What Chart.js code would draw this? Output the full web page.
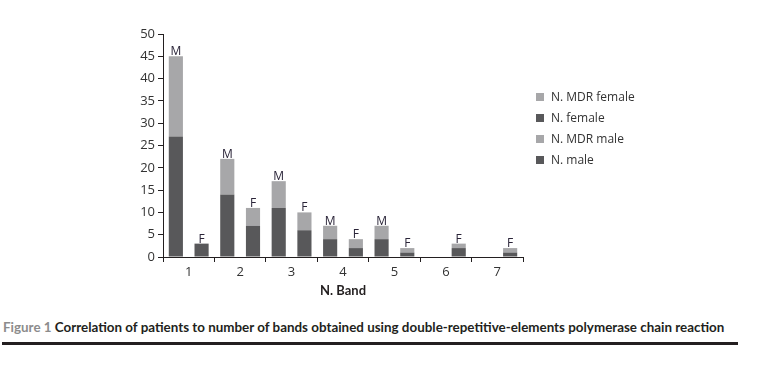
<!DOCTYPE html>
<html>
<head>
<meta charset="utf-8">
<script src="https://cdn.jsdelivr.net/npm/chart.js@4.4.1/dist/chart.umd.min.js"></script>
<style>
  body { margin: 0; background: #fff; }
  #wrap { position: absolute; left: 0; top: 0; width: 766px; height: 305px; }
  #legend { position: absolute; left: 536px; top: 89px; font: 12px "Open Sans", sans-serif; color: #333; }
  #legend div { height: 21px; line-height: 16px; white-space: nowrap; }
  #legend i { display: inline-block; width: 8px; height: 8px; margin-right: 7px; vertical-align: 0px; }
  .caption { position: absolute; left: 3px; top: 319px; font: bold 13.4px Lato, sans-serif; color: #231f20; white-space: nowrap; }
  .caption span { color: #8c8c8c; }
  .rule { position: absolute; left: 2px; top: 342px; width: 736px; height: 3px; background: #231f20; }
</style>
</head>
<body>
<div id="wrap"><canvas id="chart"></canvas></div>
<div id="legend"></div>
<div class="caption"><span>Figure 1</span> Correlation of patients to number of bands obtained using double-repetitive-elements polymerase chain reaction</div>
<div class="rule"></div>
<script>
const bands = ['1', '2', '3', '4', '5', '6', '7'];
const male = [27, 14, 11, 4, 4, 0, 0];
const mdrMale = [18, 8, 6, 3, 3, 0, 0];
const female = [3, 7, 6, 2, 1, 2, 1];
const mdrFemale = [0, 4, 4, 2, 1, 1, 1];

const DARK = '#58585a';
const LIGHT = '#a7a7a9';

// puts M / F above each non-empty stack
const stackLabels = {
  id: 'stackLabels',
  afterDatasetsDraw(chart) {
    const { ctx } = chart;
    const tops = {};
    chart.data.datasets.forEach((ds, i) => { tops[ds.stack] = i; });
    ctx.save();
    ctx.font = '12px "Open Sans", sans-serif';
    ctx.fillStyle = '#2a2438';
    ctx.textAlign = 'center';
    ctx.textBaseline = 'alphabetic';
    Object.keys(tops).forEach(stack => {
      const meta = chart.getDatasetMeta(tops[stack]);
      bands.forEach((b, j) => {
        const total = chart.data.datasets
          .filter(ds => ds.stack === stack)
          .reduce((s, ds) => s + ds.data[j], 0);
        if (!total) return;
        const bar = meta.data[j];
        ctx.fillText(stack, bar.x, bar.y - 1);
      });
    });
    ctx.restore();
  }
};

const chart = new Chart(document.getElementById('chart'), {
  type: 'bar',
  data: {
    labels: bands,
    datasets: [
      { label: 'N. male', data: male, stack: 'M', backgroundColor: DARK },
      { label: 'N. MDR male', data: mdrMale, stack: 'M', backgroundColor: LIGHT },
      { label: 'N. female', data: female, stack: 'F', backgroundColor: DARK },
      { label: 'N. MDR female', data: mdrFemale, stack: 'F', backgroundColor: LIGHT },
    ],
  },
  options: {
    responsive: true,
    maintainAspectRatio: false,
    animation: false,
    categoryPercentage: 1,
    barPercentage: 0.55,
    layout: { padding: { left: 0, top: 34, right: 243, bottom: 0 } },
    plugins: {
      legend: { display: false },
      tooltip: { enabled: false },
    },
    scales: {
      x: {
        stacked: true,
        afterFit(scale) { scale.height = 48; },
        grid: { drawOnChartArea: false, tickLength: 5, color: '#231f20' },
        border: { color: '#231f20' },
        ticks: { color: '#333', font: { family: '"Open Sans", sans-serif', size: 13 }, padding: 2 },
        title: {
          display: true, text: 'N. Band', color: '#231f20',
          font: { family: 'Lato, sans-serif', size: 13, weight: 'bold' },
          padding: { top: 4, bottom: 6 },
        },
      },
      y: {
        stacked: true,
        min: 0,
        max: 50,
        afterFit(scale) { scale.width = 163; },
        grid: { drawOnChartArea: false, tickLength: 5, color: '#231f20' },
        border: { color: '#231f20' },
        ticks: { stepSize: 5, color: '#333', font: { family: '"Open Sans", sans-serif', size: 13 }, padding: 3 },
      },
    },
  },
  plugins: [stackLabels],
});

// legend, listed in reverse like the original
const legend = document.getElementById('legend');
chart.data.datasets.slice().reverse().forEach(ds => {
  const row = document.createElement('div');
  row.innerHTML = '<i style="background:' + ds.backgroundColor + '"></i>' + ds.label;
  legend.appendChild(row);
});
</script>
</body>
</html>
